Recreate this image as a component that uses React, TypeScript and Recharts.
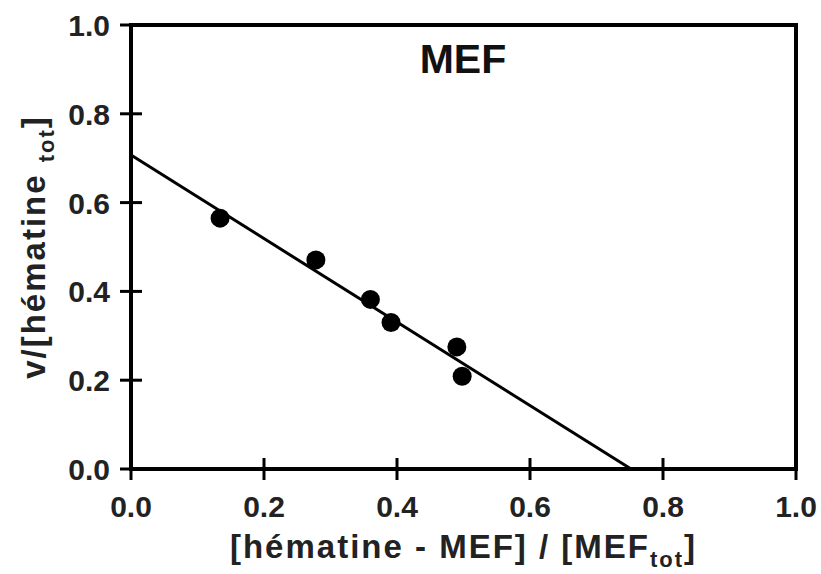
import { ScatterChart, Scatter, XAxis, YAxis, ReferenceLine, Customized } from 'recharts';

const xTicks = [0, 0.2, 0.4, 0.6, 0.8, 1.0];
const yTicks = [0, 0.2, 0.4, 0.6, 0.8, 1.0];

// bound MEF fraction vs v/[hématine tot]
const boundFraction = [0.134, 0.278, 0.360, 0.391, 0.490, 0.498];
const vRatio = [0.565, 0.471, 0.382, 0.330, 0.275, 0.209];

// linear fit: y-intercept and x-intercept
const fitX = [0, 0.752];
const fitY = [0.707, 0];

const points = boundFraction.map((x, i) => ({ x, y: vRatio[i] }));
const fitLine = fitX.map((x, i) => ({ x, y: fitY[i] }));

const font = '"Liberation Sans", Arial, sans-serif';
const tickFont = 30;

const XTick = ({ x, y, payload }: any) => (
    <g>
        <line x1={x} x2={x} y1={y - 11} y2={y + 11} stroke="#000" strokeWidth={3} />
        <text x={x} y={y + 48} textAnchor="middle" fontFamily={font} fontWeight="bold" fontSize={tickFont} fill="#222">
            {Number(payload.value).toFixed(1)}
        </text>
    </g>
);

const YTick = ({ x, y, payload }: any) => (
    <g>
        <line x1={x - 11} x2={x + 11} y1={y} y2={y} stroke="#000" strokeWidth={3} />
        <text x={x - 21} y={y + 11} textAnchor="end" fontFamily={font} fontWeight="bold" fontSize={tickFont} fill="#222">
            {Number(payload.value).toFixed(1)}
        </text>
    </g>
);

const XLabel = ({ viewBox }: any) => {
    const cx = viewBox.x + viewBox.width / 2;
    return (
        <text x={cx} y={558} textAnchor="middle" fontFamily={font} fontWeight="bold" fontSize={33} letterSpacing={2} fill="#222">
            [hématine - MEF] / [MEF
            <tspan fontSize={22} dy={9}>tot</tspan>
            <tspan dy={-9}>]</tspan>
        </text>
    );
};

const YLabel = ({ viewBox }: any) => {
    const cy = viewBox.y + viewBox.height / 2;
    return (
        <text x={45} y={cy} transform={`rotate(-90, 45, ${cy})`} textAnchor="middle" fontFamily={font} fontWeight="bold" fontSize={33} letterSpacing={2} fill="#222">
            <tspan x={45} y={cy}>v/[hématine </tspan>
            <tspan fontSize={22} dy={9}>tot</tspan>
            <tspan dy={-9}>]</tspan>
        </text>
    );
};

const Title = () => (
    <text x={463} y={73} textAnchor="middle" fontFamily={font} fontWeight="bold" fontSize={41} fill="#111">
        MEF
    </text>
);

const axisLine = { stroke: '#000', strokeWidth: 4, strokeLinecap: 'square' as const };

export default function App() {
    return (
        <div style={{ position: 'absolute', left: 0, top: 0, background: '#fff' }}>
            <ScatterChart width={821} height={574} margin={{ top: 25, right: 25, bottom: 75, left: 71 }}>
                <XAxis
                    type="number"
                    dataKey="x"
                    domain={[0, 1]}
                    ticks={xTicks}
                    height={30}
                    tickSize={0}
                    tickMargin={0}
                    tickLine={false}
                    axisLine={axisLine}
                    tick={<XTick />}
                    label={{ content: <XLabel /> }}
                />
                <YAxis
                    type="number"
                    dataKey="y"
                    domain={[0, 1]}
                    ticks={yTicks}
                    width={60}
                    tickSize={0}
                    tickMargin={0}
                    tickLine={false}
                    axisLine={axisLine}
                    tick={<YTick />}
                    label={{ content: <YLabel /> }}
                />
                <ReferenceLine y={1} stroke="#000" strokeWidth={4} strokeLinecap="square" />
                <ReferenceLine x={1} stroke="#000" strokeWidth={4} strokeLinecap="square" />
                <Scatter
                    data={fitLine}
                    line={{ stroke: '#000', strokeWidth: 3 }}
                    shape={() => <g />}
                    isAnimationActive={false}
                />
                <Scatter data={points} fill="#000" shape={(p: any) => <circle cx={p.cx} cy={p.cy} r={9.5} fill="#000" />} isAnimationActive={false} />
                <Customized component={Title} />
            </ScatterChart>
        </div>
    );
}
